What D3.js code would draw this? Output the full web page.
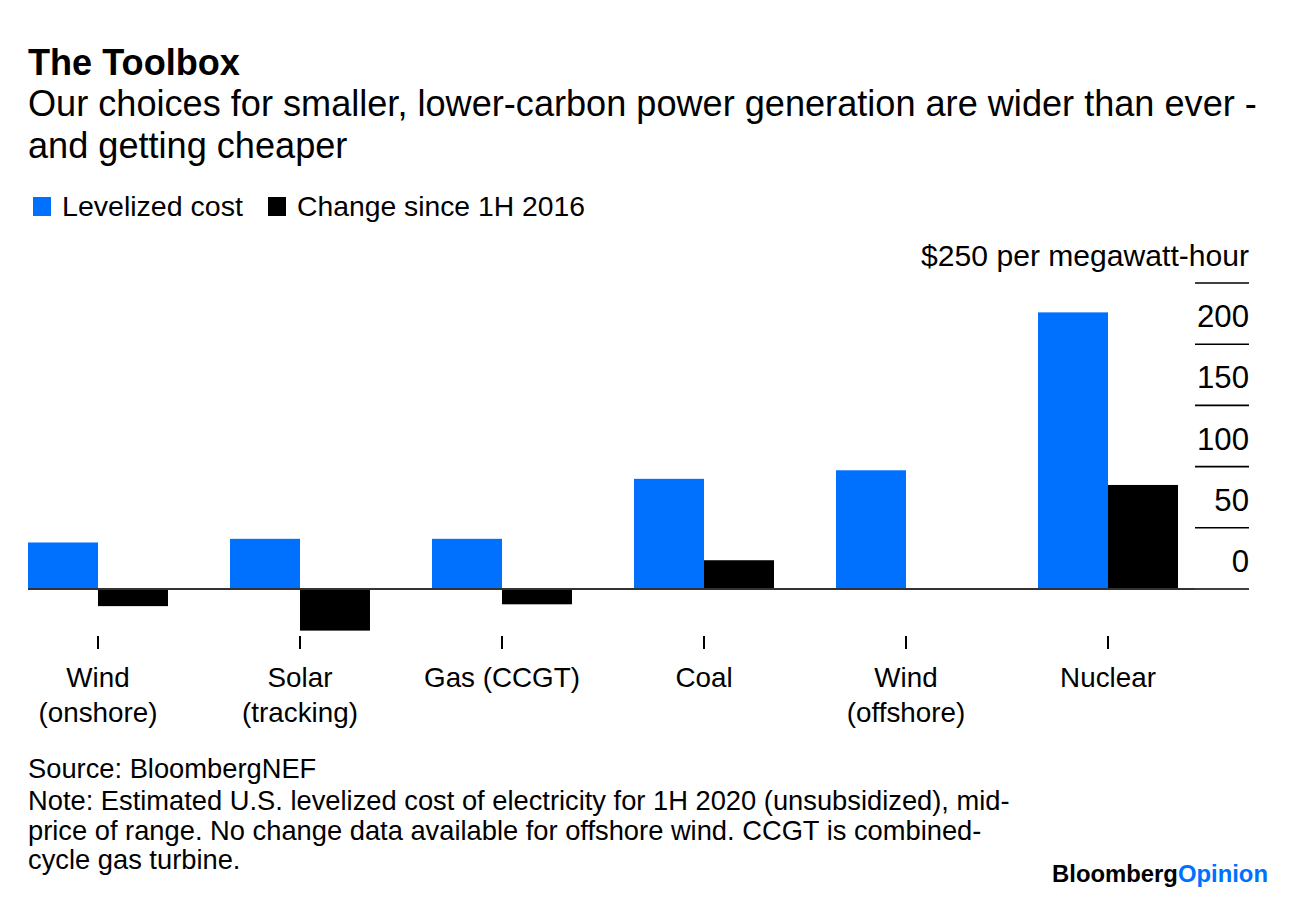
<!DOCTYPE html>
<html>
<head>
<meta charset="utf-8">
<script src="https://cdn.jsdelivr.net/npm/d3@7"></script>
<style>
  html, body { margin: 0; padding: 0; background: #fff; }
  svg { display: block; }
  text { font-family: "Liberation Sans", Arial, sans-serif; fill: #000; }
</style>
</head>
<body>
<svg id="chart" width="1296" height="898"></svg>
<script>
// ---- data ----
const categories = [["Wind", "(onshore)"], ["Solar", "(tracking)"], ["Gas (CCGT)"], ["Coal"], ["Wind", "(offshore)"], ["Nuclear"]];
const categoryKeys = ["Wind (onshore)", "Solar (tracking)", "Gas (CCGT)", "Coal", "Wind (offshore)", "Nuclear"];
const levelizedCost = [38, 41, 41, 90, 97, 226];
const changeSince2016 = [-14, -34, -12.5, 23.5, 0, 85];
const seriesNames = ["Levelized cost", "Change since 1H 2016"];
const yTicks = [0, 50, 100, 150, 200, 250];
const yTickLabels = ["0", "50", "100", "150", "200", "$250 per megawatt-hour"];

const title = "The Toolbox";
const subtitle = ["Our choices for smaller, lower-carbon power generation are wider than ever -", "and getting cheaper"];
const footnotes = [
  "Source: BloombergNEF",
  "Note: Estimated U.S. levelized cost of electricity for 1H 2020 (unsubsidized), mid-",
  "price of range. No change data available for offshore wind. CCGT is combined-",
  "cycle gas turbine."
];

// ---- drawing ----
const svg = d3.select("#chart");
const BLUE = "#0070ff";
const colors = [BLUE, "#000000"];

// font size that makes a text element span a target width
function fitSize(sel, target) {
  sel.style("font-size", "100px");
  const w = sel.node().getComputedTextLength();
  return 100 * target / w;
}

// Title
const t = svg.append("text").attr("x", 28).attr("y", 75).style("font-weight", "bold").text(title);
t.style("font-size", fitSize(t, 212) + "px");

// Subtitle
const s1 = svg.append("text").attr("x", 28).attr("y", 116).text(subtitle[0]);
const subSize = fitSize(s1, 1229);
s1.style("font-size", subSize + "px");
svg.append("text").attr("x", 28).attr("y", 158).style("font-size", subSize + "px").text(subtitle[1]);

// Legend
const legX = [33, 268];
const legTextW = [181, 288];
seriesNames.forEach((n, i) => {
  svg.append("rect").attr("x", legX[i]).attr("y", 197).attr("width", 18).attr("height", 19).attr("fill", colors[i]);
  const lt = svg.append("text").attr("x", legX[i] + 29).attr("y", 216).text(n);
  lt.style("font-size", fitSize(lt, legTextW[i]) + "px");
});

// Scales
const x0 = d3.scaleBand().domain(categoryKeys).range([28, 1178]).paddingInner(0.307).paddingOuter(0);
const x1 = d3.scaleBand().domain([0, 1]).range([0, x0.bandwidth()]);
const y = d3.scaleLinear().domain([0, 250]).range([589, 283]);

// Gridlines on right
svg.append("g").selectAll("line").data(yTicks).join("line")
  .attr("x1", 1195).attr("x2", 1249)
  .attr("y1", d => y(d)).attr("y2", d => y(d))
  .attr("stroke", "#000").attr("stroke-width", 1.6);

// Tick labels
const tmp = svg.append("text").text("200");
const tickFS = fitSize(tmp, 52); tmp.remove();
const tmpU = svg.append("text").text(yTickLabels[5]);
const unitFS = fitSize(tmpU, 328); tmpU.remove();
svg.append("g").selectAll("text").data(yTicks).join("text")
  .attr("x", 1249).attr("y", d => y(d) - 17)
  .attr("text-anchor", "end")
  .style("font-size", (d, i) => (i === yTicks.length - 1 ? unitFS : tickFS) + "px")
  .text((d, i) => yTickLabels[i]);

// Bars
const groups = svg.append("g").selectAll("g").data(categoryKeys).join("g")
  .attr("transform", d => `translate(${x0(d)},0)`);
groups.selectAll("rect").data((d, i) => [levelizedCost[i], changeSince2016[i]]).join("rect")
  .attr("x", (d, j) => x1(j))
  .attr("width", x1.bandwidth())
  .attr("y", d => y(Math.max(0, d)))
  .attr("height", d => Math.abs(y(d) - y(0)))
  .attr("fill", (d, j) => colors[j]);

// Zero axis line
svg.append("line").attr("x1", 28).attr("x2", 1195).attr("y1", y(0)).attr("y2", y(0))
  .attr("stroke", "#333").attr("stroke-width", 1.8);

// Category ticks & labels
const catG = svg.append("g").selectAll("g").data(categoryKeys).join("g")
  .attr("transform", d => `translate(${x0(d) + x0.bandwidth() / 2},0)`);
catG.append("line").attr("y1", 636).attr("y2", 649).attr("stroke", "#000").attr("stroke-width", 2);
const tmpC = svg.append("text").text("Gas (CCGT)");
const catFS = fitSize(tmpC, 156); tmpC.remove();
catG.each(function (d, i) {
  const g = d3.select(this);
  categories[i].forEach((line, k) => {
    g.append("text").attr("y", 687 + k * 35).attr("text-anchor", "middle")
      .style("font-size", catFS + "px").text(line);
  });
});

// Footnotes
const tmpF = svg.append("text").text(footnotes[1]);
const footFS = fitSize(tmpF, 982); tmpF.remove();
const footY = [778, 810, 840, 869];
footnotes.forEach((f, i) => {
  svg.append("text").attr("x", 28).attr("y", footY[i]).style("font-size", footFS + "px").text(f);
});

// Logo
const logo = svg.append("text").attr("x", 1268).attr("y", 882).attr("text-anchor", "end")
  .style("font-weight", "bold");
logo.append("tspan").text("Bloomberg");
logo.append("tspan").style("fill", BLUE).text("Opinion");
logo.style("font-size", fitSize(logo, 216) + "px");
</script>
</body>
</html>
